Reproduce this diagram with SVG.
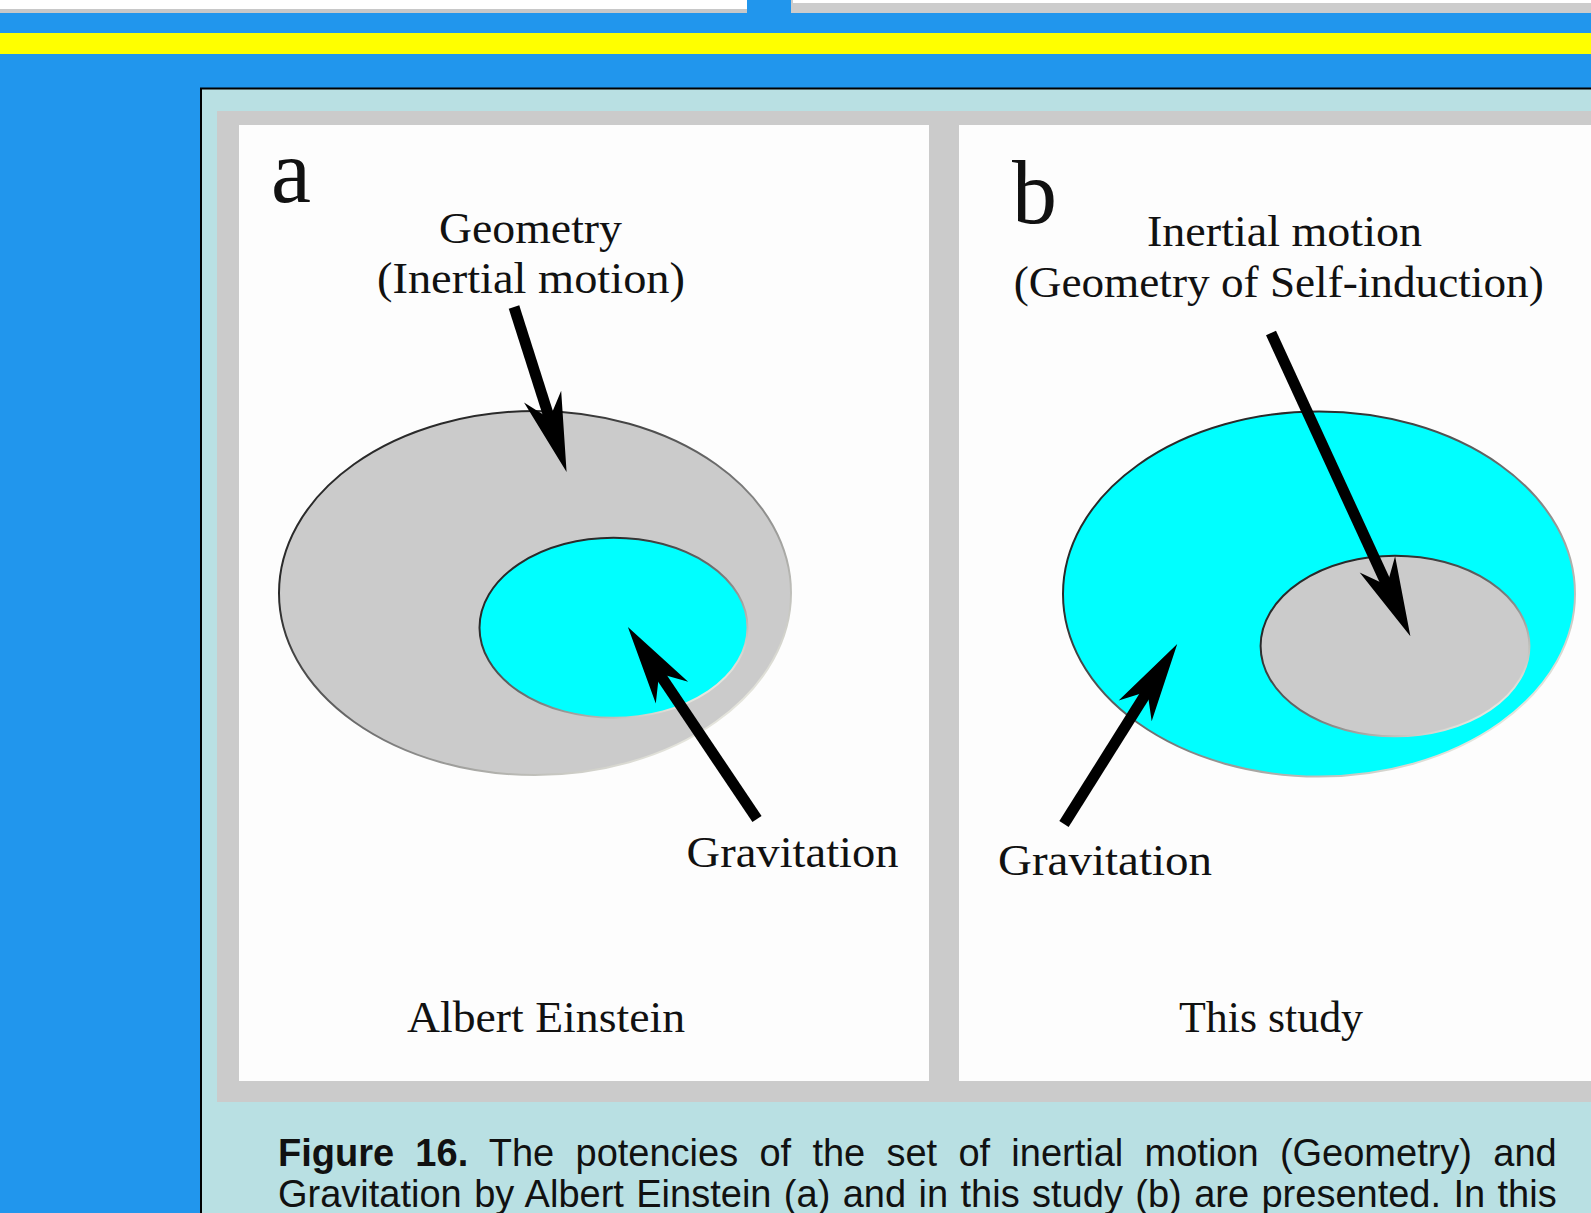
<svg xmlns="http://www.w3.org/2000/svg" width="1591" height="1213" viewBox="0 0 1591 1213">
<style>
.lbl{font-family:"Liberation Serif","Times New Roman",serif;font-size:45px;fill:#111}
.big{font-family:"Liberation Serif","Times New Roman",serif;font-size:90px;fill:#111}
.cap{font-family:"Liberation Sans",Arial,sans-serif;font-size:38px;fill:#111}
.arrow{stroke:#000;stroke-width:11;fill:none;stroke-linecap:butt;marker-end:url(#head)}
.gray{fill:#CBCBCB}
.cyan{fill:#00FFFF}
.edge{stroke:url(#edgeGrad);stroke-width:2}
</style>
<defs>
<linearGradient id="edgeGrad" x1="0" y1="0" x2="1" y2="1">
<stop offset="0.25" stop-color="#2a2a2a"/>
<stop offset="0.55" stop-color="#777"/>
<stop offset="0.85" stop-color="#e4e4dc"/>
</linearGradient>
<marker id="head" markerUnits="userSpaceOnUse" orient="auto" refX="-50" refY="0" markerWidth="100" markerHeight="50" overflow="visible">
<path d="M0,0 L-79,-19.5 L-56,0 L-79,19.5 Z" fill="#000"/>
</marker>
</defs>

<g id="background">
<rect x="0" y="0" width="1591" height="1213" fill="#2196ED"/>
<rect x="0" y="0" width="747" height="9" fill="#FFFFFF"/>
<rect x="0" y="9" width="747" height="4" fill="#C8C8C8"/>
<rect x="791" y="0" width="800" height="13" fill="#CCCCCC"/>
<rect x="793" y="0" width="798" height="3" fill="#FFFFFF"/>
<rect x="0" y="33" width="1591" height="21" fill="#FFFF00"/>
</g>

<g id="figure-box">
<rect x="201" y="88.5" width="1400" height="1200" fill="#B9E0E3" stroke="#000" stroke-width="2"/>
<rect x="217" y="111" width="1380" height="991" fill="#CBCBCB"/>
<rect x="239" y="125" width="690" height="956" fill="#FDFDFD"/>
<rect x="959" y="125" width="640" height="956" fill="#FDFDFD"/>
</g>

<g id="panel-a">
<g id="ellipse-a-outer"><ellipse class="gray edge" cx="535" cy="593" rx="256" ry="182"/></g>
<g id="ellipse-a-inner"><ellipse class="cyan edge" cx="613.5" cy="627.7" rx="134" ry="90"/></g>
<g id="label-a"><text class="big" x="271" y="201.5">a</text></g>
<g id="label-a-geometry">
<text class="lbl" x="439" y="243" textLength="183" lengthAdjust="spacingAndGlyphs">Geometry</text>
<text class="lbl" x="377" y="293" textLength="308" lengthAdjust="spacingAndGlyphs">(Inertial motion)</text>
</g>
<g id="label-a-gravitation"><text class="lbl" x="686.6" y="866.7" textLength="212" lengthAdjust="spacingAndGlyphs">Gravitation</text></g>
<g id="label-a-author"><text class="lbl" x="407" y="1032" textLength="278" lengthAdjust="spacingAndGlyphs">Albert Einstein</text></g>
</g>

<g id="panel-b">
<g id="ellipse-b-outer"><ellipse class="cyan edge" cx="1319" cy="594" rx="256" ry="182.5"/></g>
<g id="ellipse-b-inner"><ellipse class="gray edge" cx="1395" cy="646" rx="134.4" ry="90.3"/></g>
<g id="label-b"><text class="big" x="1012" y="223">b</text></g>
<g id="label-b-inertial">
<text class="lbl" x="1147" y="245.5" textLength="275" lengthAdjust="spacingAndGlyphs">Inertial motion</text>
<text class="lbl" x="1013.7" y="297" textLength="530" lengthAdjust="spacingAndGlyphs">(Geometry of Self-induction)</text>
</g>
<g id="label-b-gravitation"><text class="lbl" x="998" y="875" textLength="214" lengthAdjust="spacingAndGlyphs">Gravitation</text></g>
<g id="label-b-author"><text class="lbl" x="1179" y="1032" textLength="184" lengthAdjust="spacingAndGlyphs">This study</text></g>
</g>

<g id="connectors">
<line class="arrow" x1="514" y1="307" x2="551.4" y2="424.3"/>
<line class="arrow" x1="757" y1="819" x2="655.8" y2="668.5"/>
<line class="arrow" x1="1271" y1="333" x2="1389.5" y2="590.8"/>
<line class="arrow" x1="1064" y1="824" x2="1150.6" y2="686.3"/>
</g>

<g id="caption">
<text class="cap" x="278" y="1166" word-spacing="10.7"><tspan font-weight="bold">Figure 16.</tspan> The potencies of the set of inertial motion (Geometry) and</text>
<text class="cap" x="278" y="1207" word-spacing="1.85">Gravitation by Albert Einstein (a) and in this study (b) are presented. In this</text>
</g>
</svg>
